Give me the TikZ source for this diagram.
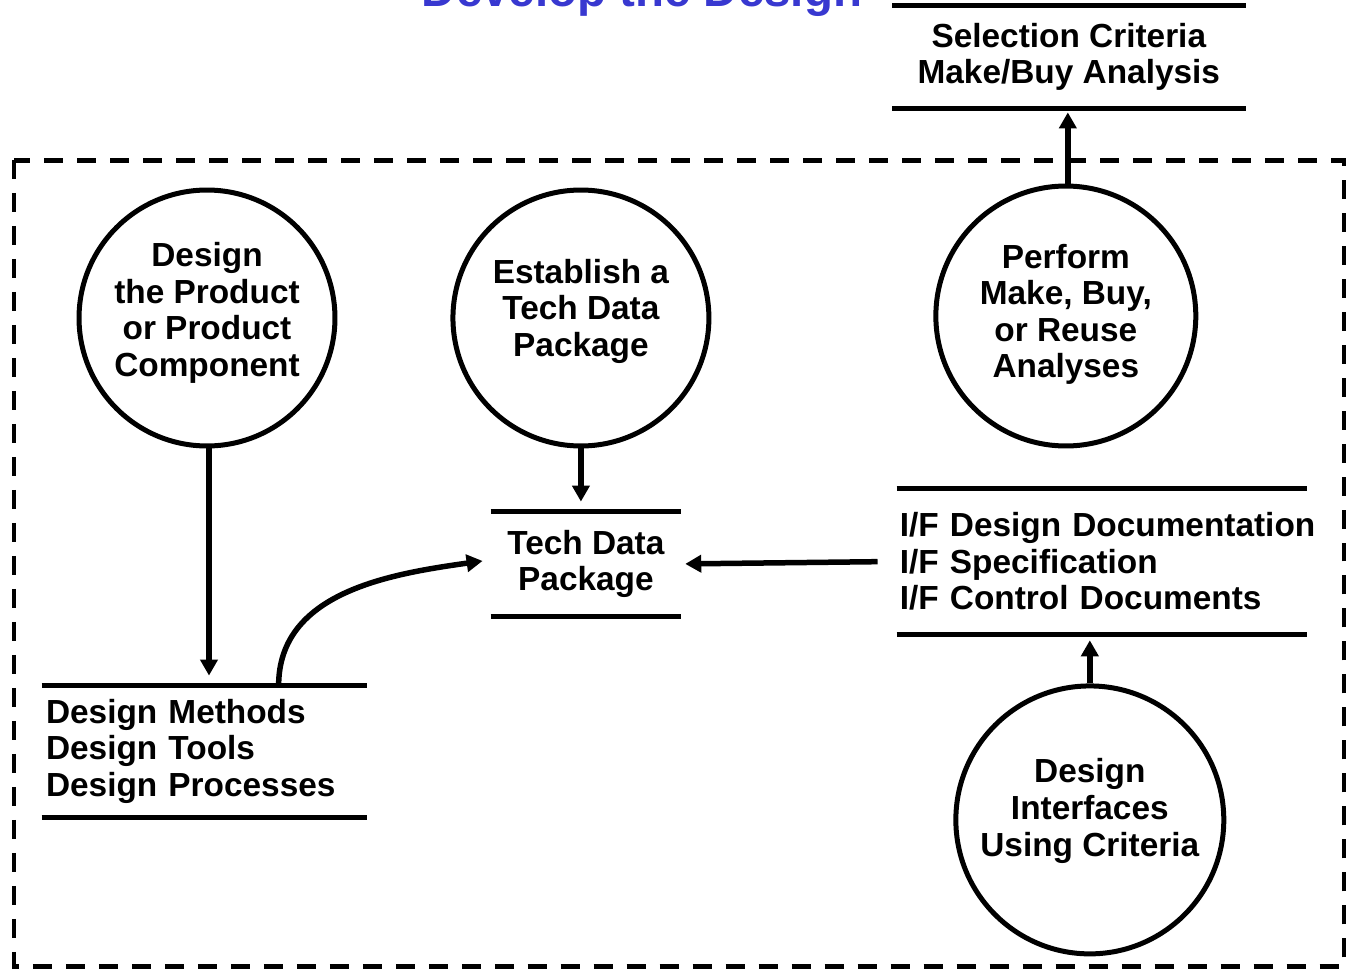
\documentclass[tikz,border=0pt]{standalone}
\usepackage{fontspec}
\setmainfont{Liberation Sans}
\usetikzlibrary{arrows.meta,positioning}
\definecolor{titleblue}{RGB}{56,56,208}
\tikzset{>={Triangle[length=0.32cm,width=0.34cm]},
  proc/.style={circle,draw,line width=0.1cm,minimum size=5.12cm,inner sep=0pt,align=center,font=\fontsize{19}{20.8}\selectfont\bfseries},
  lift/.style={text depth=#1},
  store/.style={inner sep=0pt,align=center,font=\fontsize{19}{20.8}\selectfont\bfseries},
  storeline/.style={line width=0.1cm},
  flow/.style={->,line width=0.11cm},
  frame/.style={line width=0.1cm,dash pattern=on 0.38cm off 0.28cm}}

\begin{document}
\begin{tikzpicture}[x=0.02cm,y=-0.02cm]
    \useasboundingbox (0,0) rectangle (1346,970);
    \node[font=\fontsize{27}{30}\selectfont\bfseries,text=titleblue,anchor=base] (title) at (642,7) {Develop the Design};
    \draw[frame] (14,160) rectangle (1344,966);

    \node[proc, on grid, lift=9.7pt] (design) at (207,318) {Design\\the Product\\or Product\\Component};
    \node[proc, on grid, lift=12pt] (estab) [right = 7.48cm of design] {Establish a\\Tech Data\\Package};
    \node[proc, on grid, lift=5.7pt, minimum size=5.2cm] (perform) [above right = 0.04cm and 9.7cm of estab] {Perform\\Make, Buy,\\or Reuse\\Analyses};
    \node[proc, on grid, lift=14.2pt, minimum size=5.36cm] (iface) [below right = 10.08cm and 0.48cm of perform] {Design\\Interfaces\\Using Criteria};

    \node[store, on grid, minimum width=7.06cm, minimum height=2.04cm] (sel) [above right = 5.18cm and 0.06cm of perform] {Selection Criteria\\Make/Buy Analysis};
    \node[store, on grid, minimum width=3.8cm, minimum height=2.08cm] (tdp) [below right = 4.92cm and 0.1cm of estab] {Tech Data\\Package};
    \node[store, on grid, align=left, inner xsep=0.06cm, text width=8.08cm, minimum height=2.9cm] (ifd) [above right = 5.17cm and 0.24cm of iface] {\mbox{I/F Design Documentation}\\I/F Specification\\I/F Control Documents};
    \node[store, on grid, align=left, inner xsep=0.08cm, text width=6.34cm, minimum height=2.62cm] (meth) [below left = 8.67cm and 0.05cm of design] {Design Methods\\Design Tools\\Design Processes};

    \foreach \s in {sel,tdp,ifd,meth}
      \draw[storeline] (\s.north west) -- (\s.north east) (\s.south west) -- (\s.south east);

    \draw[flow, shorten >=0.2cm] ([xshift=0.04cm]design.south) -- ([xshift=0.04cm]design.south |- meth.north);
    \draw[flow, shorten >=0.2cm] (estab) -- (estab |- tdp.north);
    \draw[flow] ([xshift=4.74cm]meth.north west) to[out=90,in=188] ([xshift=-0.16cm,yshift=0.06cm]tdp.west);
    \draw[flow, shorten <=0.38cm, shorten >=0.08cm] (ifd.west) -- (tdp.east);
    \draw[flow, shorten >=0.08cm] ([xshift=0.04cm]perform.north) -- ([xshift=0.04cm]perform.north |- sel.south);
    \draw[flow, shorten >=0.12cm] (iface) -- (iface |- ifd.south);
\end{tikzpicture}
\end{document}
